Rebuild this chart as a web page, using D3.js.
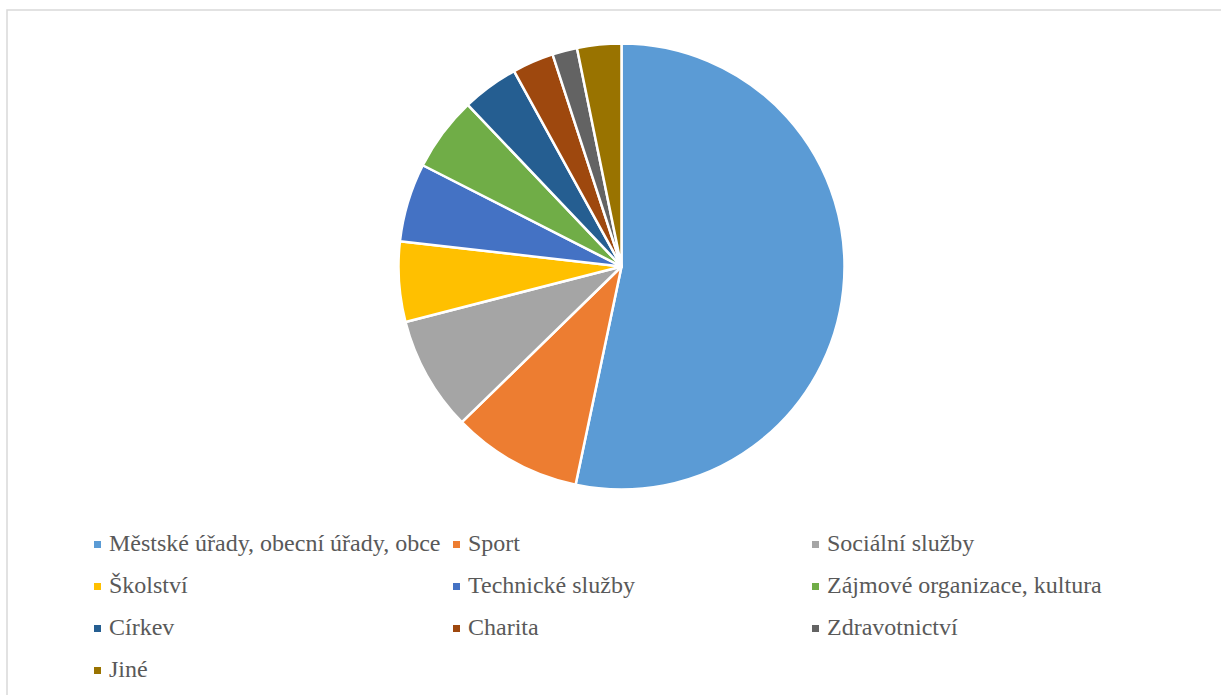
<!DOCTYPE html>
<html>
<head>
<meta charset="utf-8">
<script src="https://cdn.jsdelivr.net/npm/d3@7"></script>
<style>
  body { margin: 0; background: #fff; }
  svg { display: block; }
  .legend text { font-family: "Liberation Serif", "DejaVu Serif", serif; }
</style>
</head>
<body>
<svg id="chart" width="1221" height="695"></svg>
<script>
// categories and shares (%), clockwise from 12 o'clock
const categories = [
  "Městské úřady, obecní úřady, obce", "Sport", "Sociální služby",
  "Školství", "Technické služby", "Zájmové organizace, kultura",
  "Církev", "Charita", "Zdravotnictví", "Jiné"
]
const shares = [53.3, 9.4, 8.3, 5.8, 5.7, 5.4, 4.1, 3.0, 1.8, 3.2]
const colors = ["#5b9bd5", "#ed7d31", "#a5a5a5", "#ffc000", "#4472c4",
                "#70ad47", "#255e91", "#9e480e", "#636363", "#997300"]

const svg = d3.select("#chart")

// chart frame (runs off the right and bottom edges)
svg.append("rect")
  .attr("x", 7).attr("y", 10)
  .attr("width", 1240).attr("height", 720)
  .attr("fill", "#fff")
  .attr("stroke", "#d9d9d9")
  .attr("stroke-width", 1.5)

const cx = 621.5, cy = 266.5, r = 223

const pie = d3.pie().sort(null).value(d => d)
const arc = d3.arc().innerRadius(0).outerRadius(r)
const color = d3.scaleOrdinal().domain(categories).range(colors)

svg.append("g")
  .attr("transform", `translate(${cx},${cy})`)
  .selectAll("path")
  .data(pie(shares))
  .join("path")
  .attr("d", arc)
  .attr("fill", (d, i) => color(categories[i]))
  .attr("stroke", "#fff")
  .attr("stroke-width", 2.5)
  .attr("stroke-linejoin", "round")

// legend: 3 columns, 4 rows
const colX = d3.scaleLinear().domain([0, 1]).range([94, 453])
const rowY = d3.scaleLinear().domain([0, 1]).range([551, 593])

const item = svg.append("g").attr("class", "legend").selectAll("g")
  .data(categories)
  .join("g")
  .attr("transform", (d, i) => `translate(${colX(i % 3)},${rowY(Math.floor(i / 3))})`)

item.append("rect")
  .attr("x", 0).attr("y", -10)
  .attr("width", 7).attr("height", 7)
  .attr("fill", d => color(d))

item.append("text")
  .attr("x", 15)
  .attr("y", 0)
  .attr("font-size", 24)
  .attr("fill", "#595959")
  .text(d => d)
</script>
</body>
</html>
